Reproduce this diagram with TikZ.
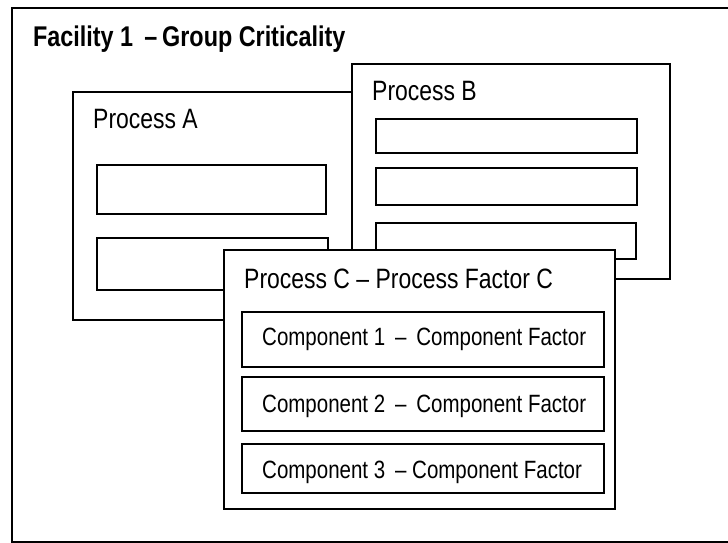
\documentclass[tikz,border=0pt]{standalone}
\usepackage{fontspec}
\setmainfont{Liberation Sans}
\newfontfamily\narrow[FakeStretch=0.82]{Liberation Sans}
\begin{document}
\begin{tikzpicture}[x=1pt,y=-1pt,
  box/.style={draw=black, line width=1.6pt, fill=white, inner sep=0pt, anchor=north west},
  lbl/.style={anchor=base west, inner sep=0pt, font=\narrow\fontsize{28}{30}\selectfont},
  clbl/.style={anchor=base west, inner sep=0pt, font=\narrow\fontsize{25}{28}\selectfont},
  ttl/.style={anchor=base west, inner sep=0pt, font=\narrow\bfseries\fontsize{28.5}{30}\selectfont}]
\useasboundingbox (0,0) rectangle (728,542);
\clip (0,0) rectangle (728,542);
% outer frame
\node[box, minimum width=740, minimum height=534] (frame) at (11,7) {};
\node[ttl] (title) at (33,46) {Facility 1 \,–\,Group Criticality};
% Process A
\node[box, minimum width=300, minimum height=228] (A) at (72,91) {};
\node[lbl] (tA) at (93,128) {Process A};
\node[box, minimum width=229, minimum height=49] (A1) at (96,164) {};
\node[box, minimum width=231, minimum height=52] (A2) at (96,237) {};
% Process B
\node[box, minimum width=318, minimum height=215] (B) at (351,63) {};
\node[lbl] (tB) at (372,100) {Process B};
\node[box, minimum width=261, minimum height=34] (B1) at (375,118) {};
\node[box, minimum width=261, minimum height=37] (B2) at (375,167) {};
\node[box, minimum width=260, minimum height=36] (B3) at (375,222) {};
% Process C
\node[box, minimum width=391, minimum height=259] (C) at (223,249) {};
\node[lbl] (tC) at (244,288) {Process C – Process Factor C};
\node[box, minimum width=362, minimum height=55] (C1) at (241,311) {};
\node[box, minimum width=362, minimum height=54] (C2) at (241,376) {};
\node[box, minimum width=362, minimum height=49] (C3) at (241,443) {};
\node[clbl] (tC1) at (262,345) {Component 1 \,– \,Component Factor};
\node[clbl] (tC2) at (262,412) {Component 2 \,– \,Component Factor};
\node[clbl] (tC3) at (262,478) {Component 3 \,– Component Factor};
\end{tikzpicture}
\end{document}
